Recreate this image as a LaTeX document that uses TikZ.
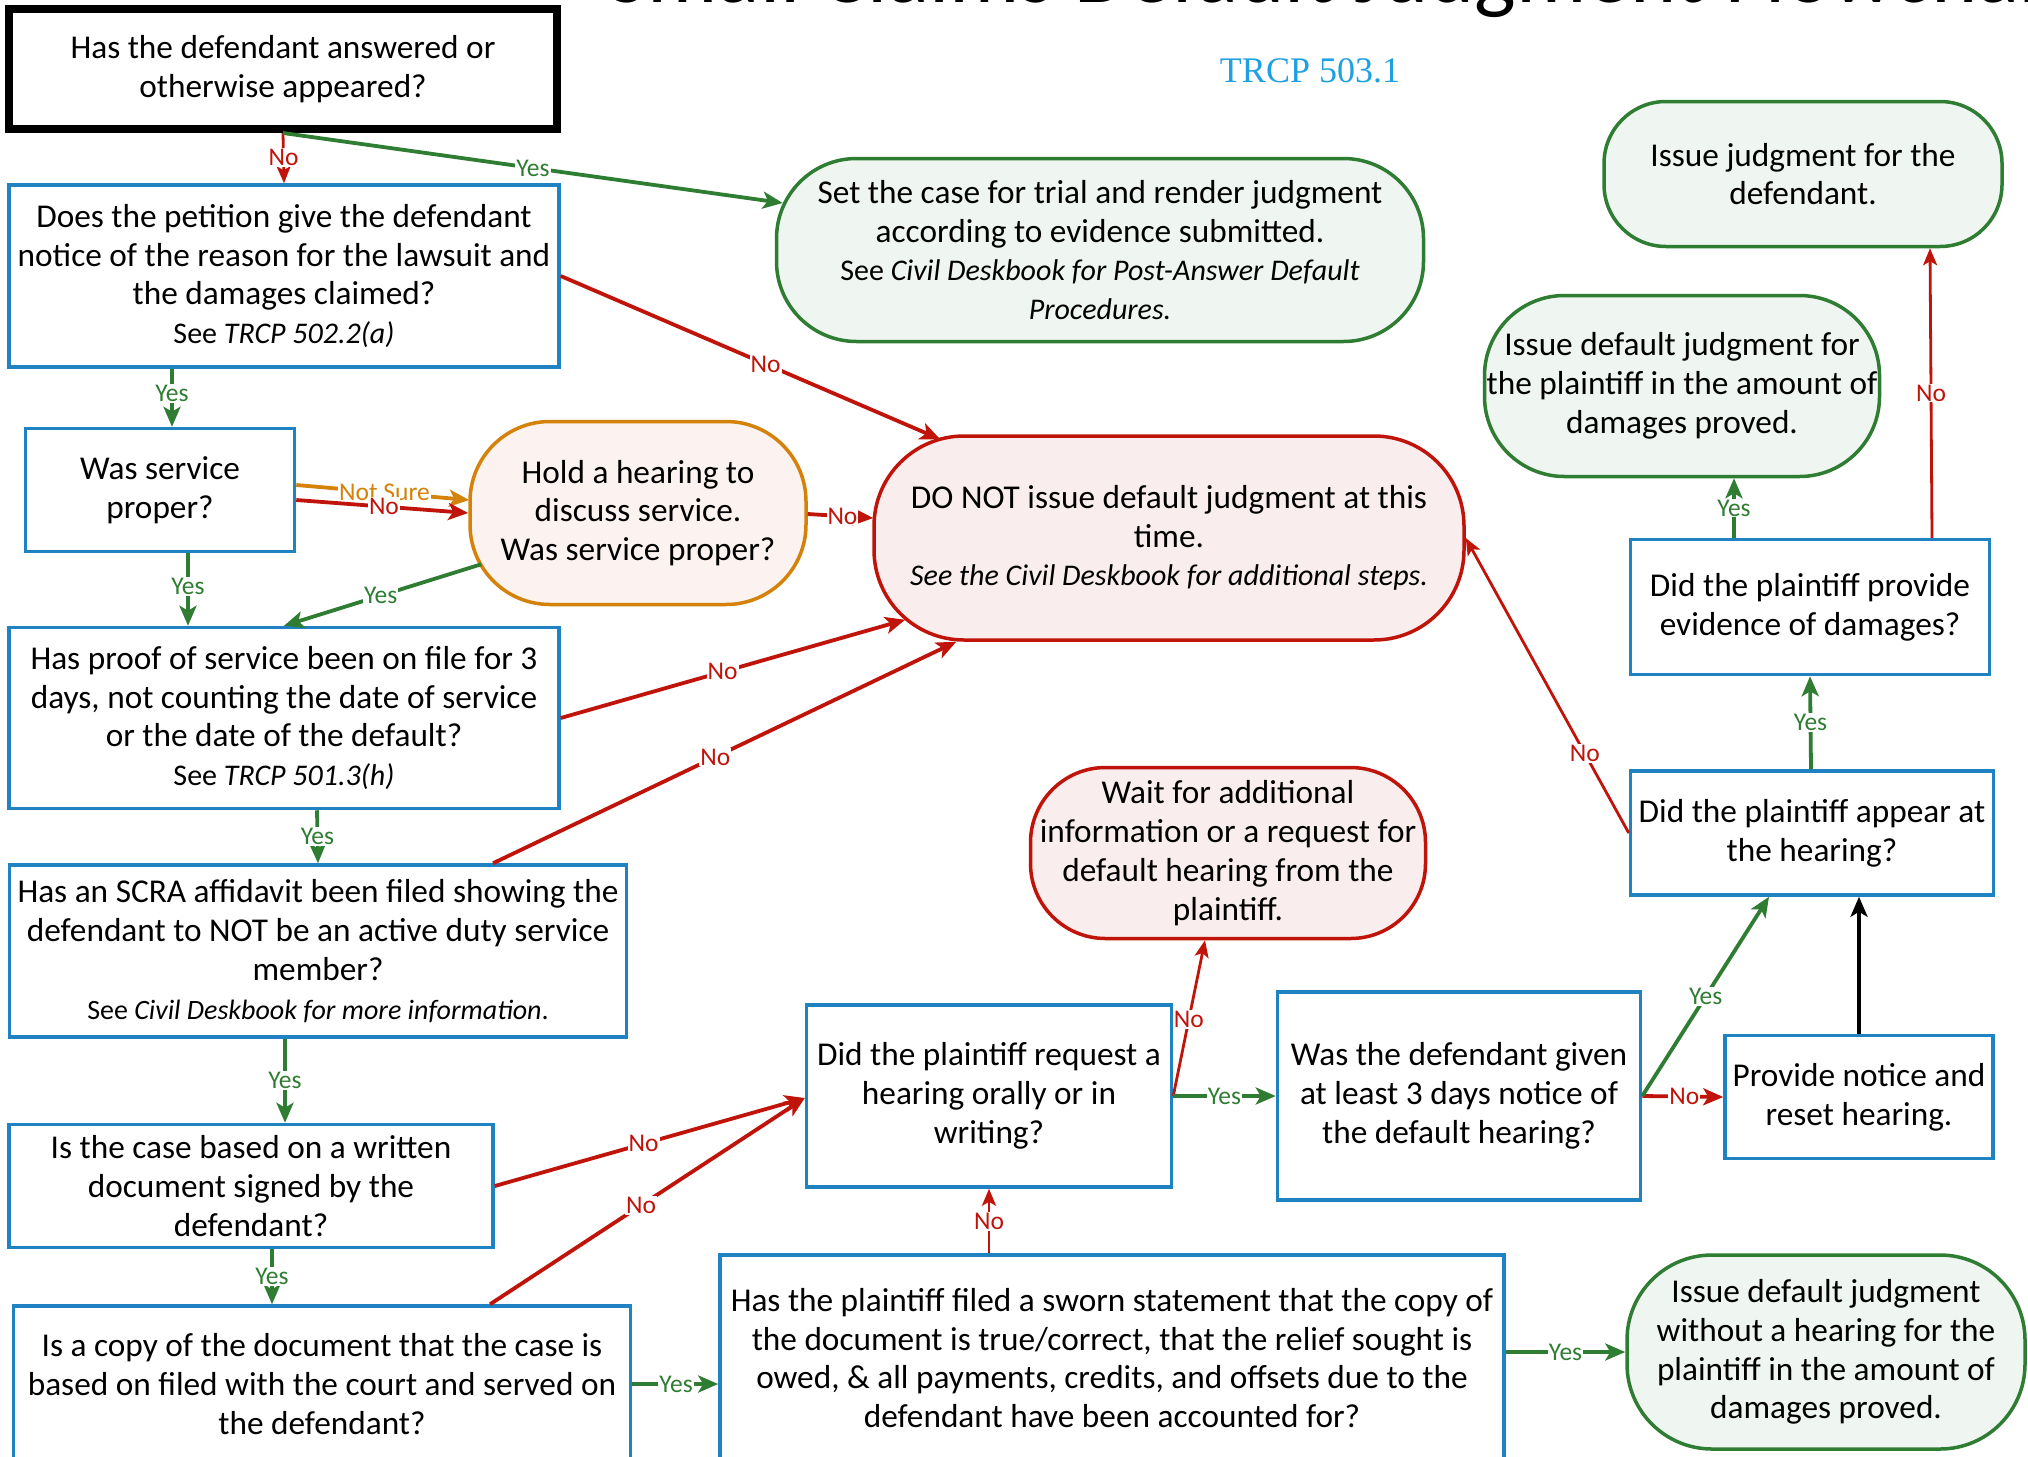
\documentclass[tikz,border=0pt]{standalone}
\usepackage{fontspec}
\setmainfont{Carlito}
\newfontfamily\trcpfamily{Liberation Serif}
\usetikzlibrary{arrows.meta,calc}
\definecolor{boxblue}{RGB}{30,130,195}
\definecolor{gline}{RGB}{47,125,50}
\definecolor{rline}{RGB}{192,20,10}
\definecolor{oline}{RGB}{212,130,10}
\definecolor{gfill}{RGB}{239,245,240}
\definecolor{rfill}{RGB}{249,237,237}
\definecolor{ofill}{RGB}{252,242,240}
\definecolor{trcpblue}{RGB}{30,160,225}
\newcommand\bodyfont{\fontsize{33.3}{38.8}\selectfont}
\newcommand\smfont{\fontsize{30}{38}\selectfont}
\newcommand\smmfont{\fontsize{28}{38}\selectfont}
\newcommand\lblfont{\fontsize{25.5}{27}\selectfont}
\newcommand\titlefont{\fontsize{88}{96}\selectfont}
\newcommand\trcpfont{\trcpfamily\fontsize{36}{40}\selectfont}
\tikzset{
  qbox/.style={draw=boxblue, line width=3.5pt, fill=white, align=center, inner sep=0pt, font=\bodyfont},
  gterm/.style={draw=gline, line width=3.5pt, fill=gfill, align=center, inner sep=0pt, font=\bodyfont},
  rterm/.style={draw=rline, line width=3.5pt, fill=rfill, align=center, inner sep=0pt, font=\bodyfont},
  oterm/.style={draw=oline, line width=3.5pt, fill=ofill, align=center, inner sep=0pt, font=\bodyfont},
  arr/.style={-{Stealth[length=20pt,width=17pt,inset=5pt]}},
  yesE/.style={draw=gline, line width=3.8pt, arr},
  noE/.style={draw=rline, line width=3.8pt, arr},
  thinno/.style={draw=rline, line width=2.8pt, -{Stealth[length=17pt,width=14pt,inset=4pt]}},
  lbl/.style={fill=white, inner sep=1pt, font=\lblfont},
  ylbl/.style={lbl, text=gline},
  nlbl/.style={lbl, text=rline},
}
\begin{document}
\begin{tikzpicture}[x=1pt,y=-1pt]
\clip (0,0) rectangle (2028,1456);
\fill[white] (0,0) rectangle (2028,1456);

% title and reference
\node[anchor=base west, font=\titlefont, inner sep=0pt] (title) at (607,2.5) {Small Claims Default Judgment Flowchart};
\node[font=\trcpfont, text=trcpblue, inner sep=0pt] (trcp) at (1310,71) {TRCP 503.1};

% nodes
\node[draw=black, line width=8pt, fill=white, align=center, inner sep=0pt, font=\bodyfont,
      minimum width=548pt, minimum height=120pt] (n1) at (283,69)
  {Has the defendant answered or\\otherwise appeared?};
\node[qbox, minimum width=550pt, minimum height=182pt] (n2) at (284,276)
  {Does the petition give the defendant\\notice of the reason for the lawsuit and\\the damages claimed?\\{\smfont See \textit{TRCP 502.2(a)}}};
\node[qbox, minimum width=269pt, minimum height=123pt] (n3) at (160,490)
  {Was service\\proper?};
\node[oterm, rounded corners=80pt, minimum width=336pt, minimum height=183pt] (n4) at (638,513)
  {Hold a hearing to\\discuss service.\\Was service proper?};
\node[rterm, rounded corners=90pt, minimum width=590pt, minimum height=204pt] (n5) at (1169,538)
  {DO NOT issue default judgment at this\\time.\\{\smfont\itshape See the Civil Deskbook for additional steps.}};
\node[gterm, rounded corners=80pt, minimum width=647pt, minimum height=183pt] (n6) at (1100,250)
  {Set the case for trial and render judgment\\according to evidence submitted.\\{\smfont See \textit{Civil Deskbook for Post-Answer Default}}\\{\smfont\itshape Procedures.}};
\node[gterm, rounded corners=62pt, minimum width=398pt, minimum height=145pt] (n7) at (1803,174)
  {Issue judgment for the\\defendant.};
\node[gterm, rounded corners=80pt, minimum width=395pt, minimum height=181pt] (n8) at (1682,386)
  {Issue default judgment for\\the plaintiff in the amount of\\damages proved.};
\node[qbox, minimum width=359pt, minimum height=135pt] (n9) at (1810,607)
  {Did the plaintiff provide\\evidence of damages?};
\node[qbox, minimum width=363pt, minimum height=124pt] (n10) at (1812,833)
  {Did the plaintiff appear at\\the hearing?};
\node[qbox, minimum width=550pt, minimum height=181pt] (n11) at (284,718)
  {Has proof of service been on file for 3\\days, not counting the date of service\\or the date of the default?\\{\smfont See \textit{TRCP 501.3(h)}}};
\node[qbox, minimum width=617pt, minimum height=172pt] (n12) at (318,951)
  {Has an SCRA affidavit been filed showing the\\defendant to NOT be an active duty service\\member?\\{\smmfont See \textit{Civil Deskbook for more information}.}};
\node[rterm, rounded corners=75pt, minimum width=395pt, minimum height=171pt] (n13) at (1228,853)
  {Wait for additional\\information or a request for\\default hearing from the\\plaintiff.};
\node[qbox, minimum width=365pt, minimum height=182pt] (n14) at (989,1096)
  {Did the plaintiff request a\\hearing orally or in\\writing?};
\node[qbox, minimum width=363pt, minimum height=208pt] (n15) at (1459,1096)
  {Was the defendant given\\at least 3 days notice of\\the default hearing?};
\node[qbox, minimum width=268pt, minimum height=123pt] (n16) at (1859,1097)
  {Provide notice and\\reset hearing.};
\node[qbox, minimum width=484pt, minimum height=123pt] (n17) at (251,1186)
  {Is the case based on a written\\document signed by the\\defendant?};
\node[qbox, minimum width=617pt, minimum height=156pt] (n18) at (322,1384)
  {Is a copy of the document that the case is\\based on filed with the court and served on\\the defendant?};
\node[qbox, minimum width=784pt, minimum height=206pt] (n19) at (1112,1358)
  {Has the plaintiff filed a sworn statement that the copy of\\the document is true/correct, that the relief sought is\\owed, \& all payments, credits, and offsets due to the\\defendant have been accounted for?};
\node[gterm, rounded corners=85pt, minimum width=398pt, minimum height=194pt] (n20) at (1826,1352)
  {Issue default judgment\\without a hearing for the\\plaintiff in the amount of\\damages proved.};

% connectors
\draw[thinno] (n1.south) -- node[nlbl, pos=0.49] (l1) {No} (n2.north);
\draw[yesE] (n1.south) -- node[ylbl, pos=0.50] (l2) {Yes} ($(n6.west)+(8,-47)$);
\draw[noE] (n2.east) -- node[nlbl, pos=0.54] (l3) {No} ($(n5.north west)+(68,5)$);
\draw[yesE] ($(n2.south)+(-112,0)$) -- node[ylbl, pos=0.43] (l4) {Yes} ($(n3.north)+(12,0)$);
\draw[draw=oline, line width=3.8pt, arr] ($(n3.east)+(0,-5)$) -- node[lbl, text=oline, pos=0.51] (l5) {Not Sure} ($(n4.west)+(1,-13)$);
\draw[noE] ($(n3.east)+(0,10)$) -- node[nlbl, pos=0.51] (l6) {No} (n4.west);
\draw[noE] ($(n4.east)+(0,1)$) -- node[nlbl, pos=0.53] (l7) {No} ($(n5.west)+(1,-20)$);
\draw[yesE] ($(n4.south west)+(13,-42)$) -- node[ylbl, pos=0.51] (l8) {Yes} (n11.north);
\draw[yesE] ($(n3.south)+(28,0)$) -- node[ylbl, pos=0.46] (l9) {Yes} ($(n11.north)+(-96,0)$);
\draw[noE] (n11.east) -- node[nlbl, pos=0.47] (l10) {No} ($(n5.south west)+(33,-22)$);
\draw[noE] ($(n12.north)+(175,0)$) -- node[nlbl, pos=0.48] (l11) {No} ($(n5.south west)+(84,0)$);
\draw[yesE] ($(n11.south)+(33,0)$) -- node[ylbl, pos=0.5] (l12) {Yes} (n12.north);
\draw[yesE] ($(n12.south)+(-33,0)$) -- node[ylbl, pos=0.5] (l13) {Yes} ($(n17.north)+(34,0)$);
\draw[noE] (n17.east) -- node[nlbl, pos=0.48] (l14) {No} ($(n14.west)+(0,2)$);
\draw[noE] ($(n18.north)+(168,0)$) -- node[nlbl, pos=0.48] (l15) {No} ($(n14.west)+(0,2)$);
\draw[yesE] ($(n17.south)+(21,0)$) -- node[ylbl, pos=0.5] (l16) {Yes} ($(n18.north)+(-50,0)$);
\draw[yesE] (n18.east) -- node[ylbl, pos=0.51] (l17) {Yes} (n19.west |- n18.east);
\draw[thinno] (n14.south |- n19.north) -- node[nlbl, pos=0.49] (l18) {No} (n14.south);
\draw[yesE] (n19.east |- n20.west) -- node[ylbl, pos=0.5] (l19) {Yes} (n20.west);
\draw[thinno] (n14.east) -- node[nlbl, pos=0.49] (l20) {No} ($(n13.south)+(-23,0)$);
\draw[yesE] (n14.east) -- node[ylbl, pos=0.5] (l21) {Yes} (n15.west);
\draw[noE] (n15.east) -- node[nlbl, pos=0.52] (l22) {No} (n16.west);
\draw[yesE] (n15.east) -- node[ylbl, pos=0.5] (l23) {Yes} ($(n10.south)+(-43,0)$);
\draw[draw=black, line width=3.8pt, arr] (n16.north) -- (n10.south -| n16.north);
\draw[thinno] (n10.west) -- node[nlbl, pos=0.27] (l25) {No} (n5.east);
\draw[yesE] ($(n10.north)+(-1,0)$) -- node[ylbl, pos=0.5] (l26) {Yes} (n9.south);
\draw[yesE] ($(n9.north)+(-76,0)$) -- node[ylbl, pos=0.5] (l27) {Yes} ($(n8.south)+(52,0)$);
\draw[thinno] ($(n9.north)+(122,0)$) -- node[nlbl, pos=0.5] (l28) {No} ($(n7.south)+(127,0)$);
\end{tikzpicture}
\end{document}
